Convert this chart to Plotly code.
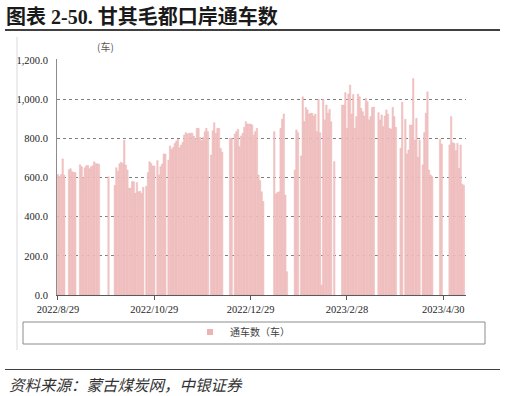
import plotly.graph_objects as go
import pandas as pd

# ---------------- data ----------------
start_date = "2022-08-29"
daily_vehicles = [
    615, 605, 615, 695, 612, None, None,
    640, 645, 630, 625, 625, None, None,
    665, 655, 600, 650, 660, 662,
    645, 655, 660, 680, 670, 670, 668,
    None, None, None, None, None,
    604, None, None, None,
    560, 650, 632, 670, 678, 672,
    790, 664, 638,
    545, 545, 579, 578, 519, 574, 527, 530, 519, 550,
    None, 555,
    625, 681, 672, 659, 659, None,
    686, 613, 655, 669, 720, 720, None,
    689, 761, 744, 754, 774, 786, 795, 752, 766, 780, 817, 829, 822, 826,
    826, 826, 812, 800, 851, 851, 805, 788, 805, 834, 851, 834,
    None,
    715, 839, 880, 826, 851, 851, 749, 730,
    None, None, None, None,
    800, 800, None,
    822, 834, 846, 757, 812, 826, 856, 885, 873, 873, 873, 868, 817, 834, 851, 613, 584, 527, 477,
    None, None, None, None, None, None,
    834, 516, 523, 527, 851, 897, 924, 510, 119,
    None, None, None, None,
    638, 843, 829, None,
    710, 1012, 885, 957, 945, 924, 928, 928, 914, 924, 834, 999, 829, 51, 999, 894, 970, 928, 948, 885,
    None, 681,
    None, None, None, None,
    970, 970, 1033, 851, 1026, 1072, 924, 1024, 851, 911, 1026, 1012, 953, 936, 914, 1004, 987, 894, 911, 957, 960,
    None, None,
    931, 894, 919, 860, 914, 945, 924, 851,
    846, 958, 911, 856,
    None, None,
    749, 984, None,
    897, 720, 740, 868, 868, 1105, 791, 902, 703, 791,
    None,
    664, 829, 928, 1037, 638, 613, 604,
    None, None, None, None,
    795, 771,
    None, None, None, None,
    766, 911, 778, 774, 737, 774, 647, 766, 566, 561,
]
tick_dates = ["2022-08-29", "2022-10-29", "2022-12-29", "2023-02-28", "2023-04-30"]
tick_labels = ["2022/8/29", "2022/10/29", "2022/12/29", "2023/2/28", "2023/4/30"]
series_name = "通车数（车）"
unit_label = "(车)"
title_text = "图表 2-50. 甘其毛都口岸通车数"
source_text = "资料来源：蒙古煤炭网，中银证券"

dates = pd.date_range(start_date, periods=len(daily_vehicles), freq="D")

# ---------------- layout helpers ----------------
W, H = 505, 396
L, R, T, B = 57, 466, 59, 295
Y_MAX = 1205  # a touch above 1,200 so the top gridline is drawn


def px(x):
    return (x - L) / (R - L)


def py(y):
    return (B - y) / (B - T)


CJK = "Noto Sans CJK SC"
SERIF = "Liberation Serif"
bar_fill = "#F4C8C8"
bar_edge = "#E9A9A9"

fig = go.Figure()
fig.add_trace(go.Bar(
    x=dates, y=daily_vehicles, name=series_name, showlegend=False,
    marker=dict(color=bar_fill, line=dict(color=bar_edge, width=0.4)),
))
fig.add_trace(go.Scatter(
    x=[None], y=[None], mode="markers", name=series_name,
    marker=dict(symbol="square", size=6, color="#EDB3B3"),
))

fig.update_layout(
    width=W, height=H, autosize=False,
    margin=dict(l=L, r=W - R, t=T, b=H - B, pad=0),
    paper_bgcolor="white", plot_bgcolor="white",
    bargap=0.08,
    showlegend=True,
    legend=dict(orientation="h", x=px(190), xanchor="left", y=py(332), yanchor="middle",
                font=dict(family=CJK, size=10, color="#404040"),
                bgcolor="rgba(0,0,0,0)", itemwidth=30),
)

fig.update_xaxes(
    type="date",
    range=["2022-08-28 09:36", "2023-05-14 09:36"],
    tickvals=tick_dates, ticktext=tick_labels,
    ticks="outside", ticklen=4, tickcolor="#595959", tickwidth=1,
    showline=True, linecolor="#595959", linewidth=1,
    showgrid=False, zeroline=False,
    tickfont=dict(family=SERIF, size=10.5, color="#262626"),
)
fig.update_yaxes(
    range=[0, Y_MAX], tickvals=[0, 200, 400, 600, 800, 1000, 1200], tickformat=",.1f",
    showgrid=True, gridcolor="#7f7f7f", griddash="dot", gridwidth=1,
    showline=True, linecolor="#8c8c8c", linewidth=1,
    zeroline=False, ticks="", ticklabelstandoff=6,
    tickfont=dict(family=SERIF, size=10.5, color="#262626"),
)

shapes = [
    # title rule
    dict(type="line", xref="paper", yref="paper", x0=px(5), x1=px(500), y0=py(30), y1=py(30),
         line=dict(color="#404040", width=1.8)),
    # faint chart frame on the left
    dict(type="line", xref="paper", yref="paper", x0=px(17), x1=px(17), y0=py(37), y1=py(350),
         line=dict(color="#d9d9d9", width=1)),
    # legend box
    dict(type="rect", xref="paper", yref="paper", x0=px(23), x1=px(485), y0=py(322), y1=py(344),
         line=dict(color="#8c8c8c", width=1), fillcolor="rgba(0,0,0,0)"),
    # source rule
    dict(type="line", xref="paper", yref="paper", x0=px(5), x1=px(500), y0=py(369.5), y1=py(369.5),
         line=dict(color="#404040", width=1.2)),
]
fig.update_layout(shapes=shapes)

annotations = [
    dict(text="<b>" + title_text + "</b>", xref="paper", yref="paper", x=px(4), y=py(16),
         xanchor="left", yanchor="middle", showarrow=False,
         font=dict(family=SERIF + ", " + CJK, size=20, color="#1a1a1a")),
    dict(text=unit_label, xref="paper", yref="paper", x=px(105), y=py(47),
         xanchor="center", yanchor="middle", showarrow=False,
         font=dict(family=CJK, size=10, color="#595959")),
    dict(text="<i>" + source_text + "</i>", xref="paper", yref="paper", x=px(7), y=py(384),
         xanchor="left", yanchor="middle", showarrow=False,
         font=dict(family=CJK, size=15.5, color="#333333")),
]
fig.update_layout(annotations=annotations)

fig.write_html(
    "out.html",
    config={"displayModeBar": False},
    post_script="document.body.style.margin='0';document.body.style.padding='0';",
)
